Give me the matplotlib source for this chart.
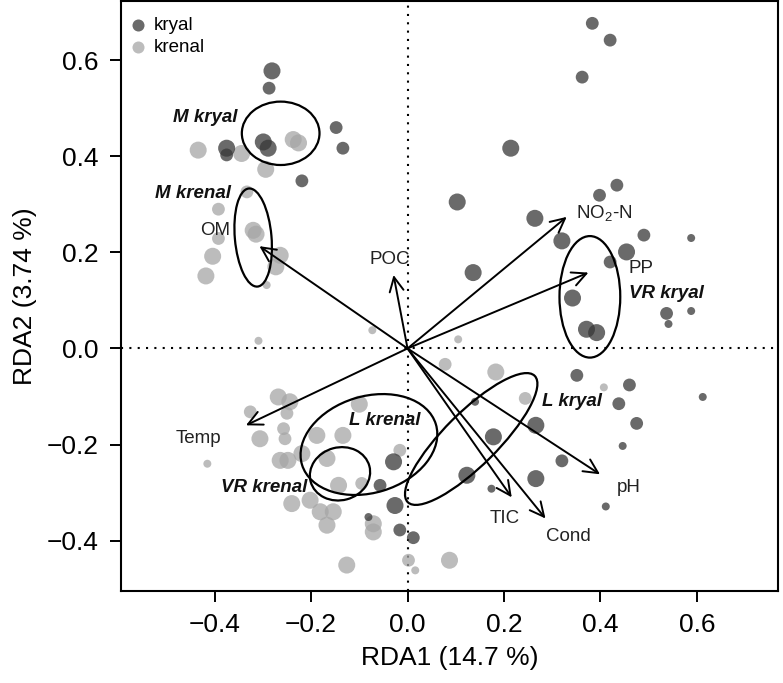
import numpy as np
import matplotlib
matplotlib.use("Agg")
import matplotlib.pyplot as plt
from matplotlib.patches import Ellipse

plt.rcParams['font.family'] = ['Liberation Sans', 'DejaVu Sans']
plt.rcParams['mathtext.fontset'] = 'custom'
plt.rcParams['mathtext.rm'] = 'Liberation Sans'

# site scores (RDA1, RDA2) and point size class
kryal_x = [-0.281, -0.287, -0.299, -0.289, -0.375, -0.375, -0.148, -0.134, -0.219,
           -0.029, -0.057, -0.026, -0.081, -0.016, 0.012, 0.140, 0.178, 0.123, 0.174,
           0.266, 0.320, 0.266, 0.351, 0.460, 0.438, 0.475, 0.446, 0.612, 0.411,
           0.342, 0.371, 0.392, 0.420, 0.454, 0.537, 0.541, 0.588, 0.264, 0.320,
           0.398, 0.434, 0.490, 0.588, 0.214, 0.383, 0.420, 0.362, 0.103, 0.136]
kryal_y = [0.578, 0.542, 0.430, 0.417, 0.417, 0.403, 0.460, 0.417, 0.349,
           -0.236, -0.285, -0.327, -0.351, -0.378, -0.394, -0.111, -0.184, -0.264, -0.292,
           -0.160, -0.234, -0.271, -0.056, -0.076, -0.115, -0.156, -0.203, -0.101, -0.329,
           0.105, 0.040, 0.033, 0.180, 0.201, 0.073, 0.051, 0.078, 0.271, 0.224,
           0.319, 0.340, 0.236, 0.230, 0.417, 0.677, 0.642, 0.565, 0.305, 0.158]
kryal_sz = ['L', 'M', 'L', 'L', 'L', 'M', 'M', 'M', 'M',
            'L', 'M', 'L', 'S', 'M', 'M', 'S', 'L', 'L', 'S',
            'L', 'M', 'L', 'M', 'M', 'M', 'M', 'S', 'S', 'S',
            'L', 'L', 'L', 'M', 'L', 'M', 'S', 'S', 'L', 'L',
            'M', 'M', 'M', 'S', 'L', 'M', 'M', 'M', 'L', 'L']

krenal_x = [-0.434, -0.344, -0.237, -0.226, -0.294, -0.333, -0.392, -0.320, -0.314,
            -0.392, -0.404, -0.418, -0.264, -0.273, -0.292, -0.309, -0.073, -0.268,
            -0.244, -0.326, -0.250, -0.100, -0.306, -0.257, -0.254, -0.188, -0.134,
            -0.415, -0.264, -0.248, -0.219, -0.167, -0.016, -0.143, -0.095, -0.240,
            -0.202, -0.181, -0.154, -0.167, -0.071, -0.071, -0.126, 0.002, 0.016,
            0.078, 0.183, 0.244, 0.105, 0.407, 0.087]
krenal_y = [0.413, 0.406, 0.435, 0.428, 0.373, 0.326, 0.290, 0.246, 0.238,
            0.229, 0.192, 0.151, 0.194, 0.170, 0.132, 0.016, 0.038, -0.101,
            -0.111, -0.132, -0.135, -0.116, -0.188, -0.167, -0.188, -0.181, -0.181,
            -0.240, -0.233, -0.233, -0.219, -0.229, -0.212, -0.285, -0.281, -0.323,
            -0.316, -0.340, -0.340, -0.368, -0.382, -0.365, -0.451, -0.441, -0.462,
            -0.033, -0.049, -0.104, 0.019, -0.081, -0.441]
krenal_sz = ['L', 'L', 'L', 'L', 'L', 'M', 'M', 'L', 'L',
             'M', 'L', 'L', 'L', 'L', 'S', 'S', 'S', 'L',
             'L', 'M', 'M', 'L', 'L', 'M', 'M', 'L', 'L',
             'S', 'L', 'L', 'L', 'L', 'M', 'L', 'M', 'L',
             'L', 'L', 'L', 'L', 'L', 'L', 'L', 'M', 'S',
             'M', 'L', 'M', 'S', 'S', 'L']

# environmental vectors
env_names = ['OM', 'POC', 'NO$_2$-N', 'PP', 'Temp', 'pH', 'TIC', 'Cond']
env_x = [-0.307, -0.029, 0.330, 0.375, -0.335, 0.399, 0.216, 0.286]
env_y = [0.213, 0.153, 0.274, 0.158, -0.160, -0.262, -0.310, -0.354]
env_lab_x = [-0.398, -0.037, 0.407, 0.484, -0.433, 0.459, 0.202, 0.333]
env_lab_y = [0.246, 0.185, 0.281, 0.167, -0.188, -0.290, -0.354, -0.392]

# group ellipses: centre, width, height, angle
grp_names = ['M kryal', 'M krenal', 'VR kryal', 'L krenal', 'VR krenal', 'L kryal']
grp_cx = [-0.263, -0.320, 0.378, -0.080, -0.140, 0.132]
grp_cy = [0.448, 0.231, 0.1075, -0.200, -0.261, -0.1885]
grp_w = [0.161, 0.205, 0.253, 0.290, 0.126, 0.372]
grp_h = [0.132, 0.076, 0.126, 0.201, 0.110, 0.111]
grp_ang = [0, 95, 90, 17, 15, 45]
grp_lab_x = [-0.419, -0.444, 0.537, -0.047, -0.298, 0.340]
grp_lab_y = [0.481, 0.323, 0.115, -0.149, -0.290, -0.111]

size_map = {'L': 150, 'M': 85, 'S': 33}
dark = '#383838'
light = '#a6a6a6'

fig = plt.figure(figsize=(7.83, 6.83), dpi=100)
ax = fig.add_axes([121 / 783, 1 - 591 / 683, 657 / 783, 590 / 683])

ax.axhline(0, color='black', lw=1.5, ls=(0, (1, 3)), zorder=1)
ax.axvline(0, color='black', lw=1.5, ls=(0, (1, 3)), zorder=1)

ax.scatter(krenal_x, krenal_y, s=[size_map[k] for k in krenal_sz],
           color=light, alpha=0.75, lw=0, zorder=2)
ax.scatter(kryal_x, kryal_y, s=[size_map[k] for k in kryal_sz],
           color=dark, alpha=0.75, lw=0, zorder=3)

for i in range(len(env_names)):
    ax.annotate('', xy=(env_x[i], env_y[i]), xytext=(0, 0),
                arrowprops=dict(arrowstyle='->, head_length=0.85, head_width=0.42',
                                color='black', lw=1.4, shrinkA=0, shrinkB=0,
                                mutation_scale=12), zorder=4)
    ax.text(env_lab_x[i], env_lab_y[i], env_names[i], fontsize=13.5,
            ha='center', va='center', color='#222222', zorder=5)

for i in range(len(grp_names)):
    ax.add_patch(Ellipse((grp_cx[i], grp_cy[i]), grp_w[i], grp_h[i], angle=grp_ang[i],
                         fill=False, ec='black', lw=1.6, zorder=4))
    ax.text(grp_lab_x[i], grp_lab_y[i], grp_names[i], fontsize=13.5,
            fontweight='bold', fontstyle='italic', ha='center', va='center',
            color='#111111', zorder=5)

# legend
ax.scatter([], [], s=75, color=dark, alpha=0.75, lw=0, label='kryal')
ax.scatter([], [], s=75, color=light, alpha=0.75, lw=0, label='krenal')
ax.legend(loc='upper left', bbox_to_anchor=(0.0, 1 - 6 / 590), frameon=False,
          fontsize=13.5, handletextpad=0.45, borderaxespad=0.3, labelspacing=0.3,
          borderpad=0.2, handlelength=0.8)

ax.set_xlim(-0.594, 0.768)
ax.set_ylim(-0.505, 0.7235)
ax.set_xticks([-0.4, -0.2, 0.0, 0.2, 0.4, 0.6])
ax.set_xticklabels(['\u22120.4', '\u22120.2', '0.0', '0.2', '0.4', '0.6'])
ax.set_yticks([-0.4, -0.2, 0.0, 0.2, 0.4, 0.6])
ax.set_yticklabels(['\u22120.4', '\u22120.2', '0.0', '0.2', '0.4', '0.6'])
ax.tick_params(labelsize=19, length=8, width=1.4, pad=8)
for sp in ax.spines.values():
    sp.set_linewidth(1.5)
ax.set_xlabel('RDA1 (14.7 %)', fontsize=19, labelpad=6)
ax.set_ylabel('RDA2 (3.74 %)', fontsize=19, labelpad=7)

fig.savefig('out.png', dpi=100)
